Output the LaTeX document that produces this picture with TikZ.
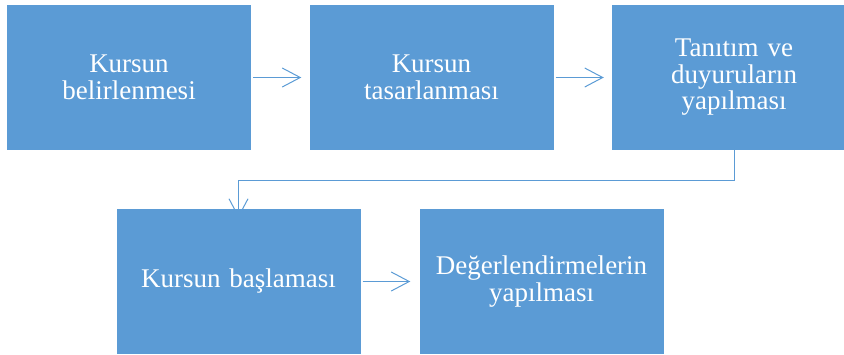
\documentclass[tikz,border=0pt]{standalone}
\usepackage{fontspec}
\setmainfont{Liberation Serif}
\usetikzlibrary{arrows.meta}
\definecolor{boxblue}{HTML}{5B9BD5}
\tikzset{
  x=1pt, y=-1pt,
  stage/.style={fill=boxblue, draw=none, text=white, minimum width=244pt, minimum height=145pt,
    inner sep=0pt, align=center, text width=230pt, font=\fontsize{27}{26.5}\selectfont},
  link/.style={draw=boxblue, line width=1pt, -{Straight Barb[length=18pt,width=19pt,line width=1pt]}},
}
\begin{document}
\begin{tikzpicture}
\useasboundingbox (0,0) rectangle (844,354);
\clip (0,0) rectangle (844,354);
\node[stage] (a) at (129,77.5) {Kursun\\belirlenmesi};
\node[stage] (b) at (431.5,77.5) {Kursun\\tasarlanması};
\node[stage] (c) at (734,77.5) {Tanıtım ve\\duyuruların\\yapılması};
\node[stage] (d) at (238.5,281.5) {Kursun başlaması};
\node[stage] (e) at (541.5,281.5) {Değerlendirmelerin\\yapılması};
\coordinate (k1) at (734,180);
\coordinate (k2) at (238.5,180);
\draw[link] ([xshift=2pt]a.east) -- ([xshift=-8pt]b.west);
\draw[link] ([xshift=2pt]b.east) -- ([xshift=-8pt]c.west);
\draw[link] ([yshift=3pt]c.south) -- (k1) -- (k2) -- ([yshift=-9pt]d.north);
\draw[link] ([xshift=2pt]d.east) -- ([xshift=-9pt]e.west);
\end{tikzpicture}
\end{document}
